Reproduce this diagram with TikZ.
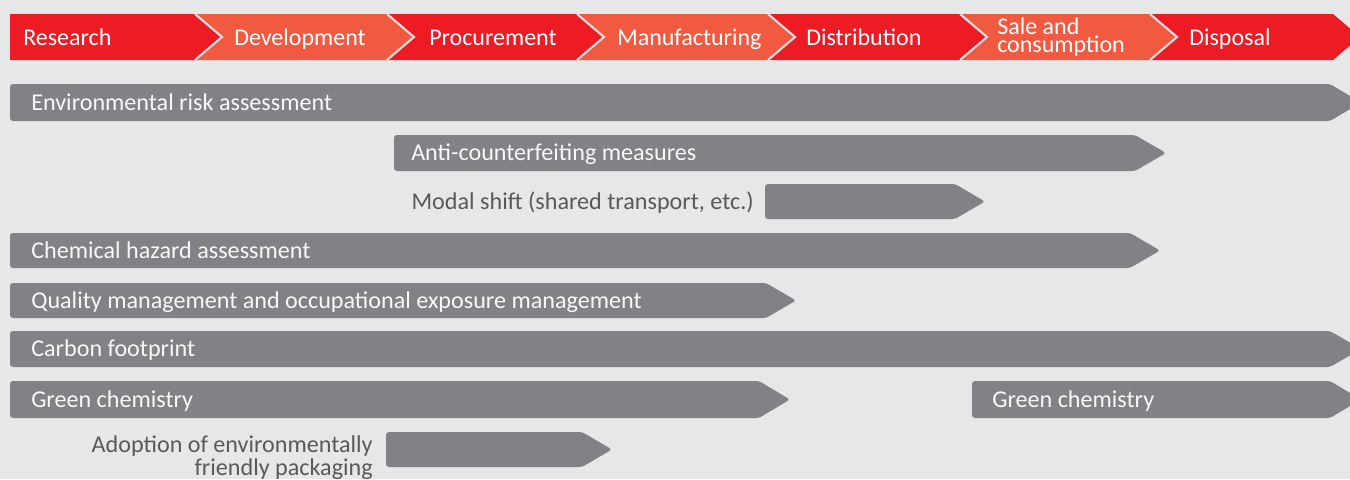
\documentclass[tikz,border=0pt]{standalone}
\usepackage{fontspec}
\setmainfont{Carlito}
\usepackage{xcolor}
\usepackage{tikz}
\usetikzlibrary{positioning}

\definecolor{bgGray}{HTML}{E6E7E8}
\definecolor{lineGray}{HTML}{DCDDDE}
\definecolor{stageRed}{HTML}{ED1C24}
\definecolor{stageOrange}{HTML}{F15A40}
\definecolor{barGray}{HTML}{808285}
\definecolor{labelGray}{HTML}{58595B}

\begin{document}
\begin{tikzpicture}[
  x=0.75pt, y=-0.75pt,
  sep/.style={draw=lineGray, line width=1.6pt, line join=miter},
  bar/.style={fill=barGray, rounded corners=2.2pt},
  stagetxt/.style={anchor=base west, inner sep=0pt, text=white, font=\fontsize{18}{12.2}\selectfont},
  bartxt/.style={anchor=base west, inner sep=0pt, text=white!94!barGray, font=\fontsize{18.1}{21}\selectfont},
  note/.style={anchor=base east, inner sep=0pt, text=labelGray, font=\fontsize{18.1}{21}\selectfont}
]
\fill[bgGray] (0,0) rectangle (1350,479);
\useasboundingbox (0,0) rectangle (1350,479);
\clip (0,0) rectangle (1350,479);

% value chain stages
\fill[stageRed]    (10,14) -- (195,14) -- (222,37) -- (195,60) -- (10,60) -- cycle;
\fill[stageOrange] (195,14) -- (387,14) -- (414,37) -- (387,60) -- (195,60) -- (222,37) -- cycle;
\fill[stageRed]    (387,14) -- (577,14) -- (604,37) -- (577,60) -- (387,60) -- (414,37) -- cycle;
\fill[stageOrange] (577,14) -- (768,14) -- (795,37) -- (768,60) -- (577,60) -- (604,37) -- cycle;
\fill[stageRed]    (768,14) -- (960,14) -- (987,37) -- (960,60) -- (768,60) -- (795,37) -- cycle;
\fill[stageOrange] (960,14) -- (1150,14) -- (1177,37) -- (1150,60) -- (960,60) -- (987,37) -- cycle;
\fill[stageRed]    (1150,14) -- (1333,14) -- (1360,37) -- (1333,60) -- (1150,60) -- (1177,37) -- cycle;

\draw[sep] (195,14) -- (222,37) -- (195,60);
\draw[sep] (387,14) -- (414,37) -- (387,60);
\draw[sep] (577,14) -- (604,37) -- (577,60);
\draw[sep] (768,14) -- (795,37) -- (768,60);
\draw[sep] (960,14) -- (987,37) -- (960,60);
\draw[sep] (1150,14) -- (1177,37) -- (1150,60);

\node[stagetxt] (research) at (23,45) {Research};
\node[stagetxt] (development) at (234,45) {Development};
\node[stagetxt] (procurement) at (429,45) {Procurement};
\node[stagetxt] (manufacturing) at (617,45) {Manufacturing};
\node[stagetxt] (distribution) at (806,45) {Distribution};
\node[stagetxt, anchor=west, align=left] (sale) at (997,37.5) {Sale and\\consumption};
\node[stagetxt] (disposal) at (1189,45) {Disposal};

% measures
\fill[bar] (10,84) -- (1330,84) -- (1361,102.5) -- (1330,121) -- (10,121) -- cycle;
\fill[bar] (394,135) -- (1135,135) -- (1166,153) -- (1135,171) -- (394,171) -- cycle;
\fill[bar] (765,184) -- (955,184) -- (985,201.5) -- (955,219) -- (765,219) -- cycle;
\fill[bar] (10,233) -- (1130,233) -- (1160,250.5) -- (1130,268) -- (10,268) -- cycle;
\fill[bar] (10,283) -- (766,283) -- (796,300.5) -- (766,318) -- (10,318) -- cycle;
\fill[bar] (10,331) -- (1330,331) -- (1361,349) -- (1330,367) -- (10,367) -- cycle;
\fill[bar] (10,381) -- (759,381) -- (790,399.5) -- (759,418) -- (10,418) -- cycle;
\fill[bar] (972,381) -- (1330,381) -- (1361,399.5) -- (1330,418) -- (972,418) -- cycle;
\fill[bar] (386,432) -- (582,432) -- (612,449.5) -- (582,467) -- (386,467) -- cycle;

\node[bartxt] (era) at (31,110) {Environmental risk assessment};
\node[bartxt] (anti) at (411,160.5) {Anti-counterfeiting measures};
\node[note] (modal) at (754,209) {Modal shift (shared transport, etc.)};
\node[bartxt] (cha) at (31,258) {Chemical hazard assessment};
\node[bartxt] (qm) at (31,308) {Quality management and occupational exposure management};
\node[bartxt] (carbon) at (31,356.5) {Carbon footprint};
\node[bartxt] (green1) at (31,407) {Green chemistry};
\node[bartxt] (green2) at (992,407) {Green chemistry};
\node[note] (adopt1) at (373,452) {Adoption of environmentally};
\node[note] (adopt2) at (373,475) {friendly packaging};
\end{tikzpicture}
\end{document}
